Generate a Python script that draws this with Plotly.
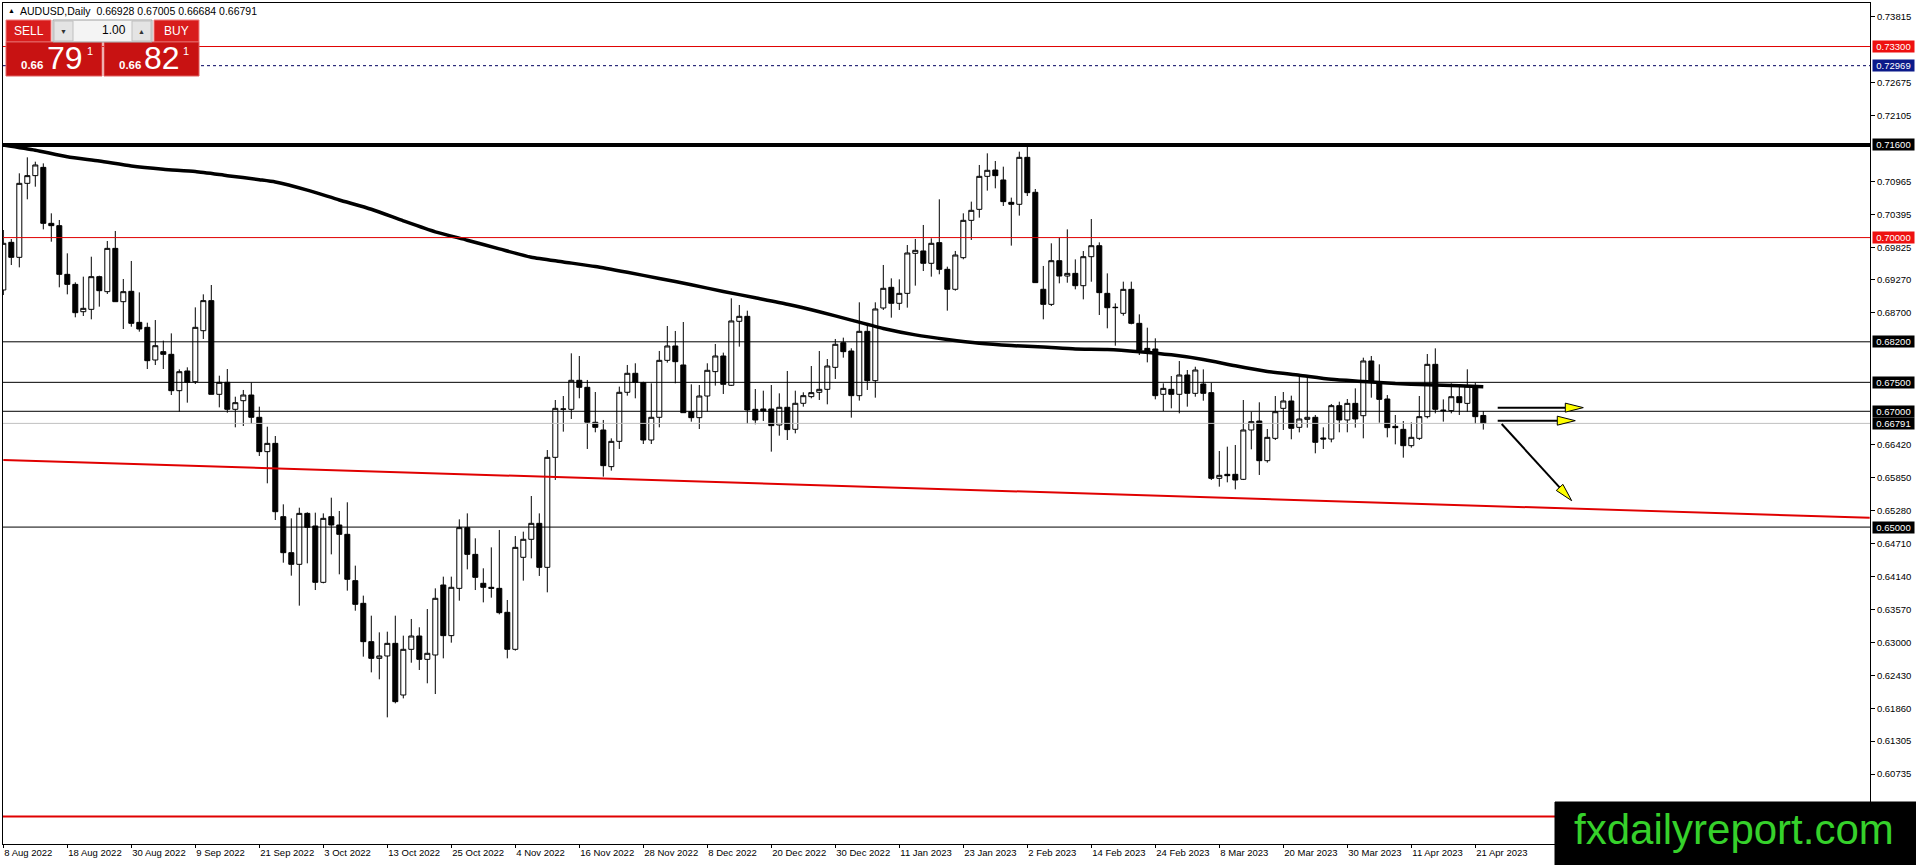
import pandas as pd
import plotly.graph_objects as go

# daily bars, 8 Aug 2022 .. 24 Apr 2023
DATES = [d.strftime("%Y-%m-%d") for d in pd.bdate_range("2022-08-08", "2023-04-24")]

OPEN = [
    0.69095, 0.69918, 0.69659, 0.70937, 0.71070, 0.71213, 0.70246, 0.70206, 0.69365, 0.69192,
    0.68720, 0.68761, 0.69325, 0.69066, 0.69814, 0.68893, 0.69072, 0.68536, 0.68450, 0.67886,
    0.68030, 0.67984, 0.67356, 0.67696, 0.67511, 0.68392, 0.68911, 0.67293, 0.67500, 0.67034,
    0.67183, 0.67281, 0.66896, 0.66303, 0.66446, 0.65180, 0.64558, 0.64357, 0.65237, 0.65019,
    0.64046, 0.65180, 0.65036, 0.64875, 0.64075, 0.63683, 0.63021, 0.62733, 0.62774, 0.62992,
    0.62100, 0.62889, 0.63119, 0.62716, 0.62791, 0.64000, 0.63125, 0.63942, 0.64990, 0.64529,
    0.64029, 0.63960, 0.63942, 0.63528, 0.62889, 0.64478, 0.64789, 0.65065, 0.64305, 0.66205,
    0.67034, 0.67034, 0.67535, 0.67414, 0.66810, 0.66677, 0.66044, 0.66481, 0.67328, 0.67656,
    0.67495, 0.66504, 0.66896, 0.67880, 0.68128, 0.67800, 0.66994, 0.66890, 0.67264, 0.67685,
    0.67955, 0.67449, 0.68554, 0.68640, 0.67034, 0.67040, 0.67040, 0.66763, 0.67069, 0.66689,
    0.67138, 0.67253, 0.67328, 0.67379, 0.67759, 0.68185, 0.68041, 0.67270, 0.68381, 0.67529,
    0.68784, 0.69141, 0.68865, 0.69037, 0.69728, 0.69769, 0.69556, 0.69913, 0.69452, 0.69107,
    0.69653, 0.70298, 0.70488, 0.71058, 0.71167, 0.70995, 0.70609, 0.70575, 0.71386, 0.70782,
    0.69107, 0.68847, 0.69601, 0.69336, 0.69382, 0.69169, 0.69670, 0.69860, 0.69037, 0.68789,
    0.68692, 0.69106, 0.68519, 0.68087, 0.68076, 0.67293, 0.67379, 0.67293, 0.67627, 0.67310,
    0.67471, 0.67322, 0.65842, 0.65911, 0.65911, 0.65825, 0.66677, 0.66832, 0.66147, 0.66533,
    0.67051, 0.67178, 0.66723, 0.66861, 0.66896, 0.66539, 0.66521, 0.67097, 0.66850, 0.67137,
    0.66924, 0.67869, 0.67512, 0.67212, 0.66740, 0.66688, 0.66406, 0.66533, 0.66907, 0.67811,
    0.67022, 0.67011, 0.67252, 0.67137, 0.67437, 0.66928,
]
HIGH = [
    0.70131, 0.69975, 0.71110, 0.71386, 0.71311, 0.71282, 0.70419, 0.70304, 0.69728, 0.69227,
    0.69325, 0.69670, 0.69342, 0.69941, 0.70114, 0.69285, 0.69596, 0.69054, 0.68530, 0.68576,
    0.68220, 0.68346, 0.67724, 0.67759, 0.68795, 0.69020, 0.69181, 0.67615, 0.67730, 0.67252,
    0.67368, 0.67500, 0.67080, 0.66734, 0.66573, 0.65393, 0.65151, 0.65335, 0.65255, 0.65249,
    0.65237, 0.65508, 0.65278, 0.65428, 0.64334, 0.63816, 0.63470, 0.63182, 0.63194, 0.63470,
    0.63125, 0.63413, 0.63269, 0.63585, 0.63942, 0.64144, 0.64144, 0.65134, 0.65237, 0.64806,
    0.64288, 0.64650, 0.64950, 0.63741, 0.64846, 0.64921, 0.65537, 0.65237, 0.66331, 0.67195,
    0.67264, 0.68001, 0.67955, 0.67541, 0.67333, 0.66850, 0.66533, 0.67426, 0.67800, 0.67829,
    0.67510, 0.67483, 0.68042, 0.68473, 0.68387, 0.68542, 0.67466, 0.67454, 0.67829, 0.68162,
    0.68013, 0.68951, 0.68836, 0.68738, 0.67385, 0.67356, 0.67454, 0.67310, 0.67696, 0.67356,
    0.67328, 0.67782, 0.68041, 0.67903, 0.68249, 0.68272, 0.68088, 0.68882, 0.68519, 0.68882,
    0.69527, 0.69296, 0.69279, 0.69872, 0.69976, 0.70218, 0.69987, 0.70661, 0.69498, 0.69769,
    0.70419, 0.70621, 0.71254, 0.71455, 0.71323, 0.71225, 0.70690, 0.71484, 0.71582, 0.70839,
    0.69510, 0.69901, 0.69998, 0.70142, 0.69624, 0.69768, 0.70321, 0.69918, 0.69382, 0.68864,
    0.69239, 0.69239, 0.68674, 0.68444, 0.68260, 0.67483, 0.67609, 0.67868, 0.67713, 0.67770,
    0.67724, 0.67494, 0.66314, 0.66389, 0.66418, 0.67195, 0.66993, 0.67155, 0.66694, 0.67264,
    0.67333, 0.67270, 0.67598, 0.67581, 0.66936, 0.66723, 0.67126, 0.67166, 0.67212, 0.67396,
    0.67926, 0.67955, 0.67811, 0.67281, 0.66936, 0.66832, 0.66809, 0.67264, 0.67989, 0.68087,
    0.67206, 0.67483, 0.67425, 0.67725, 0.67494, 0.67005,
]
LOW = [
    0.69008, 0.69526, 0.69486, 0.70661, 0.70879, 0.70142, 0.69929, 0.69141, 0.69020, 0.68623,
    0.68646, 0.68588, 0.68807, 0.69026, 0.68893, 0.68421, 0.68461, 0.68375, 0.67730, 0.67799,
    0.67730, 0.67281, 0.66993, 0.67149, 0.67471, 0.68249, 0.67293, 0.67068, 0.66976, 0.66723,
    0.66746, 0.66780, 0.66228, 0.65756, 0.65122, 0.64385, 0.64161, 0.63643, 0.64374, 0.63913,
    0.64029, 0.64529, 0.64184, 0.63902, 0.63556, 0.62762, 0.62491, 0.62371, 0.61714, 0.61956,
    0.62042, 0.62658, 0.62532, 0.62302, 0.62117, 0.62733, 0.63004, 0.63729, 0.64270, 0.63913,
    0.63700, 0.63781, 0.63493, 0.62733, 0.62866, 0.64075, 0.64460, 0.64156, 0.63873, 0.65814,
    0.66648, 0.66867, 0.67224, 0.66349, 0.66637, 0.65871, 0.65975, 0.66349, 0.67270, 0.67224,
    0.66435, 0.66435, 0.66723, 0.67840, 0.67483, 0.66976, 0.66821, 0.66694, 0.66994, 0.67443,
    0.67299, 0.67437, 0.68116, 0.66781, 0.66775, 0.66833, 0.66303, 0.66579, 0.66504, 0.66619,
    0.67080, 0.67224, 0.67195, 0.67120, 0.67558, 0.67926, 0.66890, 0.67184, 0.67368, 0.67235,
    0.68750, 0.68617, 0.68750, 0.68790, 0.69170, 0.69423, 0.69325, 0.69366, 0.68738, 0.69083,
    0.69625, 0.69959, 0.70344, 0.70811, 0.70851, 0.70546, 0.69861, 0.70379, 0.70718, 0.69222,
    0.68588, 0.68818, 0.69210, 0.69221, 0.69106, 0.68933, 0.69238, 0.68663, 0.68433, 0.68133,
    0.68651, 0.68502, 0.67972, 0.67845, 0.67206, 0.67005, 0.67051, 0.66965, 0.67080, 0.67252,
    0.67183, 0.65813, 0.65698, 0.65773, 0.65652, 0.65813, 0.66343, 0.65900, 0.66113, 0.66504,
    0.66677, 0.66516, 0.66636, 0.66717, 0.66274, 0.66349, 0.66464, 0.66637, 0.66637, 0.66717,
    0.66533, 0.67235, 0.66803, 0.66550, 0.66429, 0.66199, 0.66372, 0.66504, 0.66878, 0.66965,
    0.66821, 0.66965, 0.66936, 0.66993, 0.66780, 0.66684,
]
CLOSE = [
    0.69901, 0.69659, 0.70937, 0.71070, 0.71254, 0.70246, 0.70206, 0.69365, 0.69192, 0.68703,
    0.68778, 0.69325, 0.69083, 0.69814, 0.68893, 0.69066, 0.68519, 0.68421, 0.67874, 0.68133,
    0.67984, 0.67356, 0.67684, 0.67500, 0.68450, 0.68911, 0.67293, 0.67500, 0.67034, 0.67149,
    0.67281, 0.66896, 0.66303, 0.66446, 0.65266, 0.64558, 0.64357, 0.65237, 0.64996, 0.64046,
    0.65151, 0.65036, 0.64875, 0.64098, 0.63666, 0.63021, 0.62733, 0.62774, 0.62992, 0.61985,
    0.62889, 0.63119, 0.62716, 0.62820, 0.63770, 0.63125, 0.63960, 0.64990, 0.64529, 0.64132,
    0.63960, 0.63942, 0.63522, 0.62889, 0.64650, 0.64789, 0.65065, 0.64305, 0.66205, 0.67051,
    0.67040, 0.67535, 0.67414, 0.66810, 0.66723, 0.66061, 0.66481, 0.67328, 0.67656, 0.67500,
    0.66504, 0.66896, 0.67880, 0.68128, 0.67857, 0.66976, 0.66890, 0.67264, 0.67708, 0.67955,
    0.67466, 0.68560, 0.68640, 0.67023, 0.66850, 0.67005, 0.66752, 0.67069, 0.66683, 0.67138,
    0.67270, 0.67322, 0.67379, 0.67782, 0.68157, 0.68030, 0.67270, 0.68381, 0.67529, 0.68767,
    0.69124, 0.68865, 0.69037, 0.69734, 0.69780, 0.69556, 0.69901, 0.69452, 0.69107, 0.69699,
    0.70298, 0.70471, 0.71058, 0.71162, 0.71070, 0.70621, 0.70575, 0.71386, 0.70776, 0.69222,
    0.68847, 0.69601, 0.69336, 0.69382, 0.69169, 0.69670, 0.69860, 0.69049, 0.68789, 0.68795,
    0.69106, 0.68519, 0.68058, 0.68030, 0.67270, 0.67396, 0.67293, 0.67627, 0.67310, 0.67713,
    0.67310, 0.65842, 0.65894, 0.65888, 0.65813, 0.66677, 0.66821, 0.66147, 0.66550, 0.66993,
    0.67178, 0.66706, 0.66867, 0.66896, 0.66464, 0.66521, 0.67097, 0.66850, 0.67137, 0.66867,
    0.67869, 0.67512, 0.67206, 0.66717, 0.66717, 0.66406, 0.66550, 0.66907, 0.67811, 0.67034,
    0.67011, 0.67252, 0.67149, 0.67437, 0.66907, 0.66791,
]

# moving average, read at these bar numbers (1 = first bar)
MA_BARS = [1, 5, 9, 13, 17, 21, 25, 29, 33, 35, 39, 43, 47, 51, 55, 59, 63, 67, 71, 75,
           79, 83, 87, 91, 95, 99, 103, 107, 111, 115, 119, 123, 127, 131, 135, 139, 143,
           147, 151, 155, 159, 163, 167, 171, 175, 179, 183, 186]
MA_VALUES = [0.71600, 0.71510, 0.71397, 0.71323, 0.71236, 0.71180, 0.71140, 0.71070, 0.71000,
             0.70960, 0.70820, 0.70650, 0.70490, 0.70290, 0.70100, 0.69955, 0.69805, 0.69660,
             0.69580, 0.69500, 0.69400, 0.69295, 0.69185, 0.69070, 0.68960, 0.68850, 0.68720,
             0.68575, 0.68430, 0.68320, 0.68240, 0.68175, 0.68135, 0.68110, 0.68076, 0.68068,
             0.68030, 0.67975, 0.67895, 0.67785, 0.67688, 0.67622, 0.67552, 0.67515, 0.67478,
             0.67458, 0.67440, 0.67425]

# axis ticks that are not hidden behind the level labels / watermark
Y_TICKS = [0.73815, 0.72675, 0.72105, 0.70965, 0.70395, 0.69825, 0.69270,
           0.68700, 0.66420, 0.65850, 0.65280, 0.64710, 0.64140,
           0.63570, 0.63000, 0.62430, 0.61860, 0.61305, 0.60735]

# horizontal levels: (price, colour, width, dash, label colour or None)
LEVELS = [
    (0.73300, "#e00000", 1, "solid", "#ee1111"),
    (0.72969, "#000060", 1, "3px,3px", "#0b1a8a"),
    (0.71600, "#000000", 4, "solid", "#000000"),
    (0.70000, "#e00000", 1, "solid", "#ee1111"),
    (0.68200, "#000000", 1, "solid", "#000000"),
    (0.67500, "#000000", 1, "solid", "#000000"),
    (0.67000, "#000000", 1, "solid", "#000000"),
    (0.66791, "#c0c0c0", 1, "solid", "#000000"),
    (0.65000, "#000000", 1, "solid", "#000000"),
    (0.60000, "#e00000", 2, "solid", None),
]
TREND_BARS = [0, 233.3]
TREND_PRICES = [0.6616, 0.6516]

ARROW_START = [(186.8, 0.67063), (186.8, 0.66838), (187.3, 0.66781)]
ARROW_TIP = [(197.5, 0.67063), (196.5, 0.66838), (196.05, 0.65456)]

HEADER = "AUDUSD,Daily  0.66928 0.67005 0.66684 0.66791"

# plot geometry (pixels) and axis ranges
W, H = 1916, 865
PL, PT, PW, PH = 3, 3, 1867, 841
X0, X1 = -0.0375, 233.3375
Y0, Y1 = 0.595266, 0.740516

def px_x(i):
    return PL + (i - X0) / (X1 - X0) * PW

def px_y(p):
    return PT + (Y1 - p) / (Y1 - Y0) * PH

def paper_x(x):
    return (x - PL) / PW

def paper_y(y):
    return (PT + PH - y) / PH

FONT = "Liberation Sans"

fig = go.Figure()

fig.add_trace(go.Candlestick(
    x=DATES, open=OPEN, high=HIGH, low=LOW, close=CLOSE,
    increasing=dict(line=dict(color="black", width=1), fillcolor="white"),
    decreasing=dict(line=dict(color="black", width=1), fillcolor="black"),
    whiskerwidth=0, hoverinfo="skip", showlegend=False,
))
fig.add_trace(go.Scatter(
    x=[DATES[b - 1] for b in MA_BARS], y=MA_VALUES, mode="lines",
    line=dict(color="black", width=3.5, shape="spline", smoothing=0.6),
    hoverinfo="skip", showlegend=False,
))

shapes = []
annotations = []

# horizontal lines + price labels on the axis
for price, col, lw, dash, lab in LEVELS:
    shapes.append(dict(type="line", xref="paper", x0=0, x1=1, yref="y", y0=price, y1=price,
                       line=dict(color=col, width=lw, dash=dash), layer="above"))
    if lab:
        annotations.append(dict(
            x=paper_x(1872), xref="paper", xanchor="left", y=price, yref="y", yanchor="middle",
            text=f"{price:.5f}", showarrow=False, bgcolor=lab, width=39, height=9, borderpad=1,
            font=dict(family=FONT, size=9.5, color="white"),
        ))

# red trendline
shapes.append(dict(type="line", xref="x", yref="y", x0=TREND_BARS[0], x1=TREND_BARS[1],
                   y0=TREND_PRICES[0], y1=TREND_PRICES[1],
                   line=dict(color="#e00000", width=2), layer="above"))

# arrows: black shaft, yellow head
for (sx, sp), (tx, tp) in zip(ARROW_START, ARROW_TIP):
    ax_, ay_ = px_x(sx), px_y(sp)
    bx_, by_ = px_x(tx), px_y(tp)
    dx, dy = bx_ - ax_, by_ - ay_
    n = (dx ** 2 + dy ** 2) ** 0.5
    ux, uy = dx / n, dy / n
    cx, cy = bx_ - 18 * ux, by_ - 18 * uy
    shapes.append(dict(type="line", xref="paper", yref="paper",
                       x0=paper_x(ax_), y0=paper_y(ay_), x1=paper_x(cx), y1=paper_y(cy),
                       line=dict(color="black", width=2), layer="above"))
    p1 = (cx - 4.5 * uy, cy + 4.5 * ux)
    p2 = (cx + 4.5 * uy, cy - 4.5 * ux)
    path = "M {:.5f},{:.5f} L {:.5f},{:.5f} L {:.5f},{:.5f} Z".format(
        paper_x(p1[0]), paper_y(p1[1]), paper_x(bx_), paper_y(by_), paper_x(p2[0]), paper_y(p2[1]))
    shapes.append(dict(type="path", xref="paper", yref="paper", path=path,
                       fillcolor="#ffff00", line=dict(color="black", width=1), layer="above"))

# one-click trading panel
def box(x0, y0, x1, y1, fill, line):
    shapes.append(dict(type="rect", xref="paper", yref="paper",
                       x0=paper_x(x0), x1=paper_x(x1), y0=paper_y(y1), y1=paper_y(y0),
                       fillcolor=fill, line=dict(color=line, width=1), layer="above"))

def label(x, y, text, size, color="white", anchor="center", bold=False):
    if bold:
        text = f"<b>{text}</b>"
    annotations.append(dict(x=paper_x(x), y=paper_y(y), xref="paper", yref="paper",
                            xanchor=anchor, yanchor="middle", text=text, showarrow=False,
                            font=dict(family=FONT, size=size, color=color)))

box(6, 20, 51, 42, "#d81c1c", "#f08080")
box(154, 20, 199, 42, "#d81c1c", "#f08080")
box(6, 42, 102, 76, "#c81212", "#e06060")
box(104, 42, 199, 76, "#c81212", "#e06060")
box(53, 20, 152, 42, "#f4f4f4", "#a0a0a0")
box(54, 21, 73, 41, "#e4e4e4", "#c0c0c0")
box(132, 21, 151, 41, "#e4e4e4", "#c0c0c0")

label(28.5, 31, "SELL", 12)
label(176.5, 31, "BUY", 12)
label(63.5, 31, "▼", 7, "#333333")
label(141.5, 31, "▲", 7, "#333333")
label(128, 30, "1.00", 12, "black", "right")
label(32, 65, "0.66", 11.5, bold=True)
label(65, 58, "79", 32)
label(89.5, 51, "1", 11)
label(130, 65, "0.66", 11.5, bold=True)
label(162, 58, "82", 32)
label(185.5, 51, "1", 11)
label(6, 11, "▲", 7, "black", "left")
label(18, 11, HEADER, 10.5, "black", "left")

# watermark
box(1555, 802, 1916, 866, "black", "black")
label(1734, 829, "fxdailyreport.com", 42, "#36d12b")

tick_idx = list(range(0, len(DATES), 8))
tick_text = [pd.Timestamp(DATES[i]).strftime("%d %b %Y").lstrip("0") for i in tick_idx]

fig.update_layout(
    width=W, height=H,
    margin=dict(l=PL, r=W - PL - PW, t=PT, b=H - PT - PH),
    paper_bgcolor="white", plot_bgcolor="white",
    boxgap=0.375, boxgroupgap=0,
    showlegend=False,
    shapes=shapes, annotations=annotations,
    xaxis=dict(
        type="category", range=[X0, X1], rangeslider=dict(visible=False),
        tickvals=[DATES[i] for i in tick_idx], ticktext=tick_text,
        ticks="outside", ticklen=3, tickcolor="black", ticklabelposition="outside right",
        tickfont=dict(family=FONT, size=9.5, color="black"),
        showgrid=False, zeroline=False, showline=True, linecolor="black", linewidth=1, mirror=True,
    ),
    yaxis=dict(
        side="right", range=[Y0, Y1], tickvals=Y_TICKS, tickformat=".5f",
        ticks="outside", ticklen=4, tickcolor="black",
        tickfont=dict(family=FONT, size=9.5, color="black"),
        showgrid=False, zeroline=False, showline=True, linecolor="black", linewidth=1, mirror=True,
    ),
)

# the page body has a default 8px margin; drop it so the figure fills the window
fig.write_html(
    "out.html",
    config={"displayModeBar": False},
    post_script="document.body.style.margin='0';document.body.style.overflow='hidden';",
)
